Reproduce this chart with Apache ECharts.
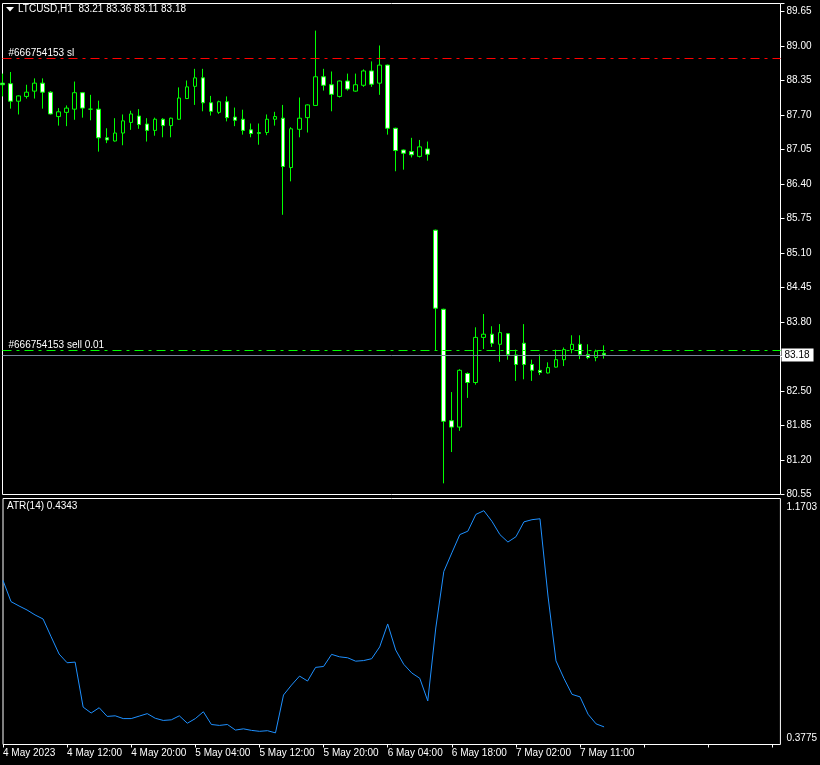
<!DOCTYPE html>
<html>
<head>
<meta charset="utf-8">
<style>
html,body{margin:0;padding:0;background:#000;}
#c{width:820px;height:765px;}
</style>
<script src="https://cdn.jsdelivr.net/npm/echarts@6/dist/echarts.min.js"></script>
</head>
<body>
<div id="c"></div>
<script>
// ---- data (hourly bars, LTCUSD H1) ----
const categories = [
 '4 May 04:00','4 May 05:00','4 May 06:00','4 May 07:00','4 May 08:00','4 May 09:00','4 May 10:00','4 May 11:00',
 '4 May 12:00','4 May 13:00','4 May 14:00','4 May 15:00','4 May 16:00','4 May 17:00','4 May 18:00','4 May 19:00',
 '4 May 20:00','4 May 21:00','4 May 22:00','4 May 23:00','5 May 00:00','5 May 01:00','5 May 02:00','5 May 03:00',
 '5 May 04:00','5 May 05:00','5 May 06:00','5 May 07:00','5 May 08:00','5 May 09:00','5 May 10:00','5 May 11:00',
 '5 May 12:00','5 May 13:00','5 May 14:00','5 May 15:00','5 May 16:00','5 May 17:00','5 May 18:00','5 May 19:00',
 '5 May 20:00','5 May 21:00','5 May 22:00','5 May 23:00','6 May 00:00','6 May 01:00','6 May 02:00','6 May 03:00',
 '6 May 04:00','6 May 05:00','6 May 06:00','6 May 07:00','6 May 08:00','6 May 09:00','6 May 16:00','6 May 17:00',
 '6 May 18:00','6 May 19:00','6 May 20:00','6 May 21:00','6 May 22:00','6 May 23:00','7 May 00:00','7 May 01:00',
 '7 May 02:00','7 May 03:00','7 May 04:00','7 May 05:00','7 May 06:00','7 May 08:00','7 May 09:00','7 May 10:00',
 '7 May 11:00','7 May 12:00','7 May 13:00','7 May 14:00'
];
const firstLabel = '4 May 2023';
const emptySlots = 22; // chart shift area on the right

const opens  = [88.30,88.29,87.96,88.05,88.15,88.30,88.13,87.67,87.75,87.81,88.12,87.81,87.81,87.27,87.21,87.36,
                87.56,87.68,87.53,87.41,87.62,87.50,87.62,88.01,88.24,88.40,87.93,87.75,87.95,87.66,87.62,87.42,
                87.35,87.37,87.62,87.64,86.71,87.43,87.65,87.88,88.42,88.27,88.05,88.34,88.15,88.26,88.53,88.30,
                88.64,87.45,87.04,87.01,86.92,87.06,85.53,84.04,81.94,81.82,82.83,82.66,83.51,83.57,83.38,83.58,
                83.18,83.40,83.00,82.89,82.84,82.95,83.09,83.28,83.38,83.19,83.13,83.21];
const highs  = [88.48,88.51,88.07,88.27,88.39,88.39,88.15,87.83,87.88,88.33,88.13,88.08,87.97,87.45,87.64,87.71,
                87.78,87.81,87.64,87.65,87.64,87.65,88.22,88.35,88.57,88.57,88.06,87.97,88.05,87.84,87.80,87.54,
                87.54,87.71,87.76,87.89,87.47,88.03,87.90,89.29,88.57,88.52,88.35,88.48,88.48,88.56,88.71,89.01,
                88.65,87.46,87.05,87.27,87.23,87.20,85.54,84.05,82.48,82.91,82.85,83.70,83.95,83.72,83.76,83.59,
                83.28,83.76,83.09,83.19,83.04,83.28,83.32,83.55,83.55,83.38,83.28,83.36];
const lows   = [88.05,87.82,87.71,88.01,88.01,87.82,87.71,87.50,87.49,87.61,87.65,87.60,87.01,87.17,87.20,87.13,
                87.42,87.44,87.20,87.31,87.28,87.28,87.61,88.00,87.89,87.77,87.69,87.72,87.58,87.49,87.33,87.28,
                87.14,87.32,87.50,85.82,86.45,87.28,87.37,87.87,88.16,87.77,88.03,88.16,88.14,88.23,88.23,88.08,
                87.33,86.64,86.67,86.90,86.90,86.84,83.26,80.76,81.35,81.75,82.37,82.62,83.29,83.33,83.05,83.09,
                82.69,82.72,82.69,82.80,82.83,82.94,82.97,83.21,83.10,83.10,83.06,83.11];
const closes = [88.27,87.96,88.06,88.13,88.30,88.13,87.72,87.76,87.83,88.12,87.83,87.81,87.27,87.23,87.36,87.59,
                87.72,87.52,87.41,87.62,87.50,87.64,88.02,88.23,88.40,87.93,87.77,87.95,87.65,87.60,87.41,87.35,
                87.37,87.62,87.67,86.73,87.44,87.64,87.89,88.42,88.26,88.09,88.34,88.19,88.27,88.53,88.28,88.64,
                87.45,87.03,86.98,86.95,87.10,86.96,84.06,81.93,81.82,82.89,82.66,83.51,83.57,83.40,83.60,83.19,
                83.00,83.00,82.89,82.85,82.94,83.09,83.28,83.38,83.19,83.13,83.25,83.18];
const atr14  = [0.906,0.838,0.824,0.811,0.795,0.782,0.725,0.669,0.641,0.643,0.498,0.479,0.496,0.468,0.470,0.461,
                0.461,0.469,0.477,0.462,0.455,0.457,0.470,0.446,0.461,0.483,0.442,0.439,0.442,0.424,0.428,0.423,
                0.420,0.422,0.415,0.537,0.569,0.598,0.582,0.626,0.629,0.668,0.660,0.657,0.646,0.648,0.654,0.692,
                0.766,0.682,0.636,0.608,0.591,0.518,0.753,0.935,0.995,1.054,1.065,1.119,1.131,1.097,1.054,1.030,
                1.047,1.095,1.102,1.105,0.856,0.647,0.590,0.539,0.531,0.475,0.444,0.4343];

const priceTicks = {min: 80.55, step: 0.65, top: 89.65};
const atrTicks = {min: 0.3775, max: 1.1703};
const bidPrice = 83.18;
const slPrice = 88.76;
const entryPrice = 83.26;
const headerText = 'LTCUSD,H1  83.21 83.36 83.11 83.18';
const atrText = 'ATR(14) 0.4343';
const slText = '#666754153 sl';
const entryText = '#666754153 sell 0.01';

// ---- build ----
const cats = categories.concat(new Array(emptySlots).fill(''));
const candles = opens.map((o, i) => [o, closes[i], lows[i], highs[i]]);

const FONT = 'Liberation Sans';
const chart = echarts.init(document.getElementById('c'), null, {renderer: 'canvas', width: 820, height: 765});

// main grid: y=3.5 .. 494.5 ; atr grid: 498.5 .. 744.5 ; x = 2.5 .. 780.5
const mainTop = 3.5, mainBottomY = 494.5;
const pxPerUnit = (mainBottomY - 11.5) / (priceTicks.top - priceTicks.min);
const mainMax = priceTicks.min + (mainBottomY - mainTop) / pxPerUnit;

chart.setOption({
  animation: false,
  backgroundColor: '#000',
  textStyle: {fontFamily: FONT},
  grid: [
    {left: 2.5, right: 39.5, top: mainTop, bottom: 765 - mainBottomY, show: true, borderColor: '#fff', borderWidth: 1, backgroundColor: 'transparent'},
    {left: 2.5, right: 39.5, top: 498.5, bottom: 20.5, show: true, borderColor: '#fff', borderWidth: 1, backgroundColor: 'transparent'}
  ],
  xAxis: [
    {type: 'category', gridIndex: 0, data: cats, boundaryGap: false, show: false},
    {type: 'category', gridIndex: 1, data: cats, boundaryGap: false,
     axisLine: {show: false},
     axisTick: {show: true, interval: 7, length: 3, lineStyle: {color: '#fff'}},
     axisLabel: {interval: 7, align: 'left', color: '#fff', fontSize: 10, margin: 4,
       formatter: (v, i) => i === 0 ? firstLabel : v}}
  ],
  yAxis: [
    {type: 'value', gridIndex: 0, position: 'right', min: priceTicks.min, max: mainMax, interval: priceTicks.step,
     splitLine: {show: false},
     axisLine: {show: false},
     axisTick: {show: true, length: 4, lineStyle: {color: '#fff'}},
     axisLabel: {color: '#fff', fontSize: 10, margin: 6, padding: [3, 0, 0, 0],
       formatter: v => v > priceTicks.top + 0.01 ? '' : v.toFixed(2)}},
    {type: 'value', gridIndex: 1, position: 'right', min: atrTicks.min, max: atrTicks.max, interval: atrTicks.max - atrTicks.min,
     splitLine: {show: false},
     axisLine: {show: false},
     axisTick: {show: false},
     axisLabel: {color: '#fff', fontSize: 10, margin: 6, showMinLabel: true, showMaxLabel: true,
       padding: [4, 0, 1, 0],
       verticalAlignMaxLabel: 'top', verticalAlignMinLabel: 'bottom',
       formatter: v => v.toFixed(4)}}
  ],
  series: [
    {type: 'candlestick', xAxisIndex: 0, yAxisIndex: 0, data: candles, barWidth: 4, clip: true,
     itemStyle: {color: '#000', color0: '#fff', borderColor: '#00ff00', borderColor0: '#00ff00', borderColorDoji: '#00ff00', borderWidth: 1},
     markLine: {
       silent: true, symbol: 'none', animation: false,
       data: [
         {yAxis: slPrice, lineStyle: {color: '#ff0000', width: 1, type: [9, 5, 3, 5]},
          label: {show: true, position: 'insideStartTop', formatter: slText, color: '#fff', fontSize: 10, distance: [6, 0]}},
         {yAxis: entryPrice, lineStyle: {color: '#00ff00', width: 1, type: [9, 5, 3, 5]},
          label: {show: true, position: 'insideStartTop', formatter: entryText, color: '#fff', fontSize: 10, distance: [6, 0]}},
         {yAxis: bidPrice, lineStyle: {color: '#778899', width: 1, type: 'solid'},
          label: {show: true, position: 'end', formatter: bidPrice.toFixed(2), color: '#000', backgroundColor: '#fff', fontSize: 10, padding: [2, 4, 1, 3], distance: 1}}
       ]
     }},
    {type: 'line', xAxisIndex: 1, yAxisIndex: 1, data: atr14, symbol: 'none', showSymbol: false,
     lineStyle: {color: '#1e90ff', width: 1}, itemStyle: {color: '#1e90ff'}}
  ],
  graphic: [
    {type: 'polygon', shape: {points: [[6, 7], [14, 7], [10, 11.5]]}, style: {fill: '#fff'}},
    {type: 'text', left: 18, top: 4, style: {text: headerText, fill: '#fff', font: '10px "Liberation Sans"'}},
    {type: 'text', left: 7, top: 501, style: {text: atrText, fill: '#fff', font: '10px "Liberation Sans"'}}
  ]
});
</script>
</body>
</html>
